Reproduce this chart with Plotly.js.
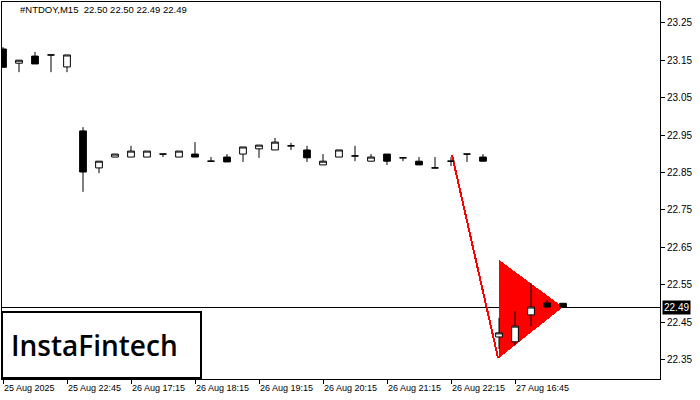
<!DOCTYPE html>
<html><head><meta charset="utf-8">
<script src="https://cdn.plot.ly/plotly-3.0.1.min.js"></script>
<style>html,body{margin:0;padding:0;background:#fff}#chart{width:700px;height:400px}
.shapelayer path{shape-rendering:crispEdges}</style>
</head><body><div id="chart"></div>
<script>
// ---- data ----
const headerText = "#NTDOY,M15  22.50 22.50 22.49 22.49";
const barIndex = [0,1,2,3,4,5,6,7,8,9,10,11,12,13,14,15,16,17,18,19,20,21,22,23,24,25,26,27,28,29,30,31,32,33,34,35];
const openP  = [23.180,23.142,23.161,23.164,23.132,22.961,22.862,22.891,22.891,22.891,22.899,22.891,22.899,22.880,22.891,22.899,22.913,22.910,22.921,22.910,22.870,22.891,22.894,22.880,22.899,22.889,22.880,22.862,22.880,22.899,22.891,22.410,22.397,22.469,22.501,22.500];
const highP  = [23.185,23.150,23.172,23.164,23.164,22.971,22.880,22.899,22.921,22.907,22.899,22.907,22.931,22.891,22.899,22.918,22.923,22.942,22.929,22.921,22.899,22.910,22.921,22.899,22.899,22.889,22.891,22.891,22.891,22.899,22.899,22.461,22.479,22.554,22.509,22.500];
const lowP   = [23.131,23.118,23.140,23.118,23.118,22.798,22.848,22.891,22.891,22.891,22.891,22.891,22.891,22.880,22.878,22.878,22.889,22.910,22.910,22.878,22.870,22.891,22.880,22.880,22.870,22.880,22.870,22.862,22.867,22.878,22.880,22.378,22.389,22.439,22.490,22.490];
const closeP = [23.131,23.150,23.140,23.164,23.164,22.851,22.880,22.899,22.907,22.907,22.899,22.907,22.891,22.880,22.878,22.918,22.923,22.931,22.921,22.889,22.880,22.910,22.894,22.891,22.880,22.889,22.870,22.862,22.880,22.899,22.880,22.421,22.439,22.490,22.490,22.490];
const xTickIndex  = [0,4,8,12,16,20,24,28,32];
const xTickLabels = ["25 Aug 2025","25 Aug 22:45","26 Aug 17:15","26 Aug 18:15","26 Aug 19:15","26 Aug 20:15","26 Aug 21:15","26 Aug 22:15","27 Aug 16:45"];
const yTickValues = [22.35,22.45,22.55,22.65,22.75,22.85,22.95,23.05,23.15,23.25];
const yTickLabels = ["22.35","22.45","22.55","22.65","22.75","22.85","22.95","23.05","23.15","23.25"];
// bearish pennant overlay (bar index, price)
const poleX = [28.06, 30.94];
const poleY = [22.897, 22.354];
const pennantX = [31, 31, 35];
const pennantY = [22.616, 22.354, 22.49];
const currentPrice = 22.49;
const logoText = "InstaFintech";

// ---- chart ----
const fam = "Liberation Sans, Arial, sans-serif";
const font = {family: fam, size: 9, color: "#000"};
const trace = {
  type: "candlestick", x: barIndex, open: openP, high: highP, low: lowP, close: closeP,
  increasing: {line: {color: "#000", width: 1}, fillcolor: "#fff"},
  decreasing: {line: {color: "#000", width: 1}, fillcolor: "#000"},
  whiskerwidth: 0, hoverinfo: "skip", showlegend: false
};
const triPath = "M" + pennantX.map((x, i) => x + "," + pennantY[i]).join(" L") + " Z";
const layout = {
  width: 700, height: 400,
  margin: {l: 2, r: 40, t: 2, b: 21},
  paper_bgcolor: "#fff", plot_bgcolor: "#fff",
  boxgap: 0.4,
  showlegend: false,
  font: font,
  xaxis: {
    range: [-0.0625, 41.0625], rangeslider: {visible: false},
    tickmode: "array", tickvals: xTickIndex, ticktext: xTickLabels,
    ticks: "outside", ticklen: 4, tickcolor: "#000", tickwidth: 1,
    ticklabelposition: "outside right",
    showline: true, mirror: true, linecolor: "#000", linewidth: 1,
    showgrid: false, zeroline: false, tickfont: font, fixedrange: true
  },
  yaxis: {
    side: "right", range: [22.2976, 23.3056],
    tickmode: "array", tickvals: yTickValues, ticktext: yTickLabels,
    ticks: "outside", ticklen: 4, tickcolor: "#000", tickwidth: 1,
    showline: true, mirror: true, linecolor: "#000", linewidth: 1,
    showgrid: false, zeroline: false, tickfont: {family: fam, size: 10, color: "#000"}, fixedrange: true
  },
  shapes: [
    {type: "path", path: triPath, xref: "x", yref: "y", fillcolor: "#ff0000", line: {width: 0}, layer: "below"},
    {type: "line", xref: "x", yref: "y", x0: poleX[0], y0: poleY[0], x1: poleX[1], y1: poleY[1], line: {color: "#ff0000", width: 2}, layer: "below"},
    {type: "line", xref: "paper", yref: "y", x0: 0, x1: 1, y0: currentPrice, y1: currentPrice, line: {color: "#000", width: 1}, layer: "below"},
    {type: "rect", xref: "paper", yref: "paper", x0: 0, x1: 0.3024, y0: 0.0027, y1: 0.1777, fillcolor: "#fff", line: {color: "#000", width: 2}, layer: "above"}
  ],
  annotations: [
    {xref: "paper", yref: "paper", x: 0.0243, y: 0.979, xanchor: "left", yanchor: "middle", text: headerText, showarrow: false, font: {family: fam, size: 9.5, color: "#000"}},
    {xref: "paper", yref: "y", x: 1, y: currentPrice, xanchor: "left", yanchor: "middle", xshift: 2, text: currentPrice.toFixed(2), showarrow: false, bgcolor: "#000", borderpad: 1, font: {family: fam, size: 10, color: "#fff"}},
    {xref: "paper", yref: "paper", x: 0.1413, y: 0.0902, xanchor: "center", yanchor: "middle", text: logoText, showarrow: false, font: {family: "Open Sans, sans-serif", size: 28, weight: 600, color: "#000"}}
  ]
};
Plotly.newPlot("chart", [trace], layout, {displayModeBar: false, staticPlot: true});
</script>
</body></html>
